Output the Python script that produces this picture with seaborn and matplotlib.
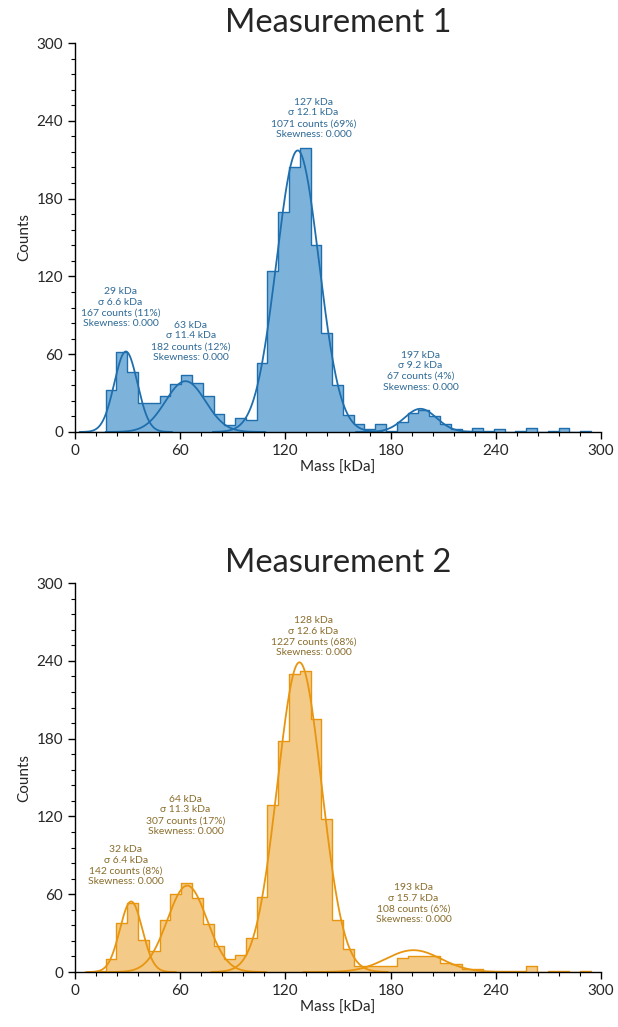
import numpy as np
import pandas as pd
import seaborn as sns
import matplotlib.pyplot as plt
from matplotlib.ticker import MultipleLocator

# histogram bins (kDa)
bin_start = 5.2
bin_width = 6.15
n_bins = 47

# counts per bin
counts_1 = [0, 0, 32, 62, 46, 22, 22, 28, 37, 44, 38, 28, 14, 5, 11, 9,
            53, 124, 170, 204, 219, 144, 76, 36, 13, 6, 2, 6, 1, 8, 15, 17,
            12, 6, 2, 1, 3, 1, 2, 0, 1, 3, 0, 1, 3, 0, 1]
counts_2 = [0, 1, 10, 38, 53, 25, 16, 40, 60, 69, 57, 37, 20, 10, 13, 26,
            58, 129, 178, 230, 232, 195, 118, 40, 18, 5, 5, 5, 5, 11, 12, 12,
            12, 7, 6, 2, 2, 1, 1, 1, 1, 5, 0, 1, 1, 0, 1]

# gaussian fits (mass, sigma, counts, percent)
fit_mass_1 = [29, 63, 127, 197]
fit_sigma_1 = [6.6, 11.4, 12.1, 9.2]
fit_counts_1 = [167, 182, 1071, 67]
fit_pct_1 = [11, 12, 69, 4]

fit_mass_2 = [32, 64, 128, 193]
fit_sigma_2 = [6.4, 11.3, 12.6, 15.7]
fit_counts_2 = [142, 307, 1227, 108]
fit_pct_2 = [8, 17, 68, 6]

# label anchor (x centre, y bottom) in data units
label_pos_1 = [(26, 80), (66, 54), (136, 226), (197, 31)]
label_pos_2 = [(29, 66), (63, 105), (136, 243), (193, 37)]

edges = bin_start + bin_width * np.arange(n_bins + 1)
centers = edges[:-1] + bin_width / 2

sns.set_theme(style="ticks")
plt.rcParams["font.family"] = ["Lato", "DejaVu Sans"]


def draw_panel(ax, title, counts, mass, sigma, n, pct, label_pos,
               fill_color, line_color, text_color):
    df = pd.DataFrame({"mass": centers, "counts": counts})
    rng = (float(edges[0]), float(edges[-1]))
    sns.histplot(data=df, x="mass", weights="counts", binwidth=bin_width,
                 binrange=rng, element="step", fill=True, color=fill_color,
                 alpha=1, linewidth=0, ax=ax)
    sns.histplot(data=df, x="mass", weights="counts", binwidth=bin_width,
                 binrange=rng, element="step", fill=False, color=line_color,
                 linewidth=1.0, ax=ax)

    for m, s, c, p, (tx, ty) in zip(mass, sigma, n, pct, label_pos):
        xs = np.linspace(m - 4 * s, m + 4 * s, 200)
        ys = c * bin_width / (s * np.sqrt(2 * np.pi)) * np.exp(-0.5 * ((xs - m) / s) ** 2)
        sns.lineplot(x=xs, y=ys, color=line_color, linewidth=1.3, ax=ax)
        ax.text(tx, ty, f"{m} kDa\nσ {s} kDa\n{c} counts ({p}%)\nSkewness: 0.000",
                ha="center", va="bottom", fontsize=7.5, color=text_color,
                linespacing=1.25)

    ax.set_xlim(0, 300)
    ax.set_ylim(0, 300)
    ax.xaxis.set_major_locator(MultipleLocator(60))
    ax.xaxis.set_minor_locator(MultipleLocator(12))
    ax.yaxis.set_major_locator(MultipleLocator(60))
    ax.yaxis.set_minor_locator(MultipleLocator(12))
    ax.tick_params(which="major", length=5, width=1, labelsize=11, color="black")
    ax.tick_params(which="minor", length=3, width=0.8, color="black")
    for sp in ["left", "bottom"]:
        ax.spines[sp].set_color("black")
        ax.spines[sp].set_linewidth(1)
    sns.despine(ax=ax)
    ax.set_xlabel("Mass [kDa]", fontsize=11, labelpad=2)
    ax.set_ylabel("Counts", fontsize=11, labelpad=4)
    ax.set_title(title, fontsize=23.5, pad=8)


fig = plt.figure(figsize=(6.18, 10.27), dpi=100)
ax1 = fig.add_axes([0.1214, 0.5794, 0.8511, 0.3787])
ax2 = fig.add_axes([0.1214, 0.0535, 0.8511, 0.3787])

draw_panel(ax1, "Measurement 1", counts_1, fit_mass_1, fit_sigma_1,
           fit_counts_1, fit_pct_1, label_pos_1,
           "#7db3db", "#1f6fae", "#2f6a96")
draw_panel(ax2, "Measurement 2", counts_2, fit_mass_2, fit_sigma_2,
           fit_counts_2, fit_pct_2, label_pos_2,
           "#f4ca88", "#e8950f", "#8a6d2c")

plt.savefig("out.png", dpi=100)
